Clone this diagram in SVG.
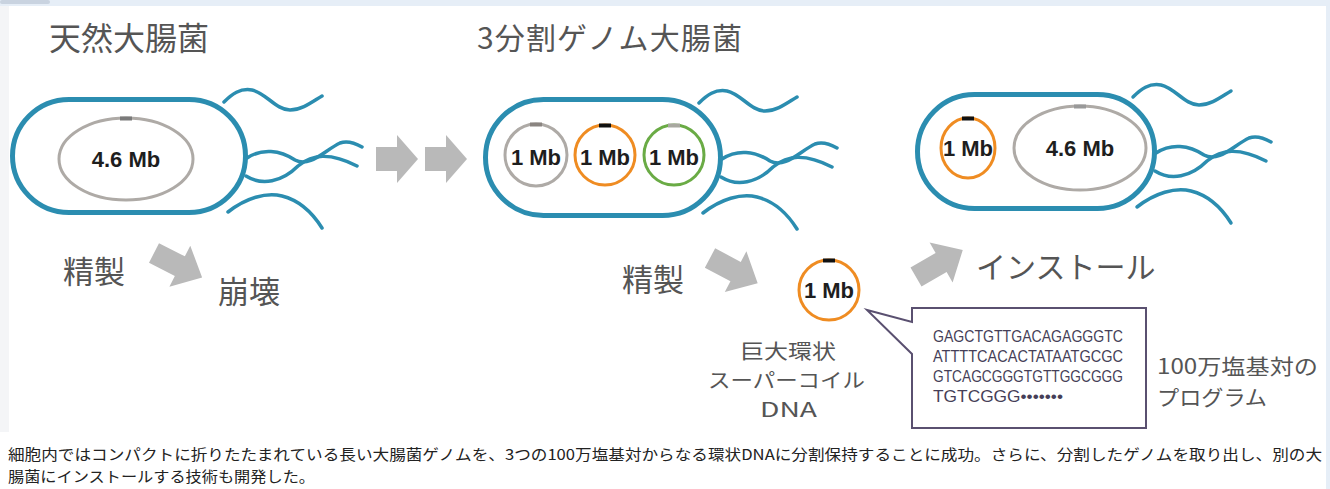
<svg xmlns="http://www.w3.org/2000/svg" xmlns:xlink="http://www.w3.org/1999/xlink" width="1330" height="489" viewBox="0 0 1330 489">
  <style>
    .cell { fill: none; stroke: #2b8db0; stroke-width: 5; }
    .flag { fill: none; stroke: #2b8db0; stroke-width: 3.5; stroke-linecap: round; }
    .ring { fill: #fff; stroke-width: 3; }
    .gray { stroke: #aeaaa6; }
    .orange { stroke: #ef8c22; }
    .green { stroke: #6aab45; }
    .mb { font-family: "Liberation Sans", Arial, sans-serif; font-weight: bold; font-size: 22px; fill: #1e1e1e; text-anchor: middle; }
    .jp { font-family: "Noto Sans CJK JP", "Noto Sans", sans-serif; fill: #555; }
    .arrow { fill: #b9b9b9; }
    .seq { font-family: "Liberation Sans", Arial, sans-serif; font-size: 17px; fill: #463f58; }
    .cap { font-family: "Noto Sans CJK JP", "Noto Sans", sans-serif; font-size: 15px; fill: #222; }
  </style>
  <defs>
    <!-- flagella bundle, drawn for the first cell and reused -->
    <g id="flagella">
      <path class="flag" d="M224,102 C232,94 240,88 252,90 C266,93 276,110 290,110 C302,110 312,102 322,96"/>
      <path class="flag" d="M247,158 C262,148 280,150 295,160 C310,168 325,150 340,143 C348,140 355,143 362,147"/>
      <path class="flag" d="M246,176 C262,186 282,182 298,166 C312,154 330,152 357,166"/>
      <path class="flag" d="M228,212 C246,198 266,192 282,196 C298,200 312,212 322,228"/>
    </g>
    <path id="harrow" d="M0,-12 H21 V-24 L42,0 L21,24 V12 H0 Z"/>
    <path id="darrow" d="M0,-11 H29 V-23 L54,0 L29,23 V11 H0 Z"/>
  </defs>

  <!-- page frame -->
  <rect width="1330" height="489" fill="#ffffff"/>
  <rect x="0" y="6" width="9" height="426" fill="#f4f5f7"/>
  <rect x="0" y="0" width="1330" height="6" fill="#e6eef7"/>
  <rect x="0" y="0" width="50" height="4" rx="2" fill="#c9d3e0"/>
  <rect x="1326" y="0" width="4" height="489" fill="#e6eef7"/>

  <!-- headings -->
  <text class="jp" x="49" y="50" font-size="32">天然大腸菌</text>
  <text class="jp" x="477" y="49" font-size="30" textLength="265" lengthAdjust="spacing">3分割ゲノム大腸菌</text>

  <!-- natural E. coli -->
  <g id="cell-natural">
    <use xlink:href="#flagella"/>
    <rect class="cell" x="12.5" y="99.5" width="233" height="113" rx="56.5"/>
    <ellipse class="ring gray" cx="126" cy="159" rx="67" ry="41"/>
    <rect x="120" y="116.5" width="12" height="4" fill="#7a7a7a"/>
    <text class="mb" x="126" y="167">4.6 Mb</text>
  </g>

  <!-- three-part genome E. coli -->
  <g id="cell-split">
    <use xlink:href="#flagella" transform="translate(475,1)"/>
    <rect class="cell" x="485.5" y="99.5" width="235" height="116" rx="58"/>
    <circle class="ring gray" cx="536" cy="155" r="31"/>
    <rect x="530" y="122.5" width="12" height="4" fill="#8a8480"/>
    <text class="mb" x="536" y="165">1 Mb</text>
    <circle class="ring orange" cx="605" cy="155" r="30"/>
    <rect x="599" y="123.5" width="12" height="4" fill="#111"/>
    <text class="mb" x="605" y="165">1 Mb</text>
    <circle class="ring green" cx="674" cy="155" r="30"/>
    <rect x="668" y="123.5" width="12" height="4" fill="#a8a8a0"/>
    <text class="mb" x="674" y="165">1 Mb</text>
  </g>

  <!-- host cell after installation -->
  <g id="cell-installed">
    <use xlink:href="#flagella" transform="translate(909,-5)"/>
    <rect class="cell" x="917.5" y="94.5" width="237" height="114" rx="57"/>
    <ellipse class="ring orange" cx="968" cy="148" rx="27" ry="30"/>
    <rect x="962" y="116.5" width="12" height="4" fill="#111"/>
    <text class="mb" x="968" y="156">1 Mb</text>
    <ellipse class="ring gray" cx="1080" cy="148" rx="66" ry="42"/>
    <rect x="1074" y="104.5" width="12" height="4" fill="#999"/>
    <text class="mb" x="1080" y="156">4.6 Mb</text>
  </g>

  <!-- isolated 1 Mb circular DNA -->
  <g id="dna-ring">
    <circle class="ring orange" cx="829" cy="290" r="30"/>
    <rect x="823" y="258.5" width="12" height="4" fill="#111"/>
    <text class="mb" x="829" y="298">1 Mb</text>
  </g>

  <!-- sequence callout -->
  <g id="callout">
    <path d="M912,308 H1146 V428 H912 V354 L867,310 L912,322 Z" fill="#fff" stroke="#5a5070" stroke-width="2" stroke-linejoin="miter"/>
    <text class="seq" x="933" y="342" textLength="190" lengthAdjust="spacingAndGlyphs">GAGCTGTTGACAGAGGGTC</text>
    <text class="seq" x="933" y="362" textLength="190" lengthAdjust="spacingAndGlyphs">ATTTTCACACTATAATGCGC</text>
    <text class="seq" x="933" y="382" textLength="190" lengthAdjust="spacingAndGlyphs">GTCAGCGGGTGTTGGCGGG</text>
    <text class="seq" x="933" y="402" textLength="130" lengthAdjust="spacingAndGlyphs">TGTCGGG•••••••</text>
  </g>

  <!-- process arrows -->
  <g id="connectors">
    <use xlink:href="#harrow" class="arrow" transform="translate(376,159)"/>
    <use xlink:href="#harrow" class="arrow" transform="translate(425,159)"/>
    <use xlink:href="#darrow" class="arrow" transform="translate(154,253) rotate(27)"/>
    <use xlink:href="#darrow" class="arrow" transform="translate(710,258) rotate(28)"/>
    <use xlink:href="#darrow" class="arrow" transform="translate(916,277) rotate(-30)"/>
  </g>

  <!-- step labels -->
  <text class="jp" x="63" y="283" font-size="31">精製</text>
  <text class="jp" x="218" y="303" font-size="31">崩壊</text>
  <text class="jp" x="622" y="291" font-size="31">精製</text>
  <text class="jp" x="976" y="278" font-size="30">インストール</text>
  <g class="jp" font-size="20">
    <text x="740" y="359" textLength="96" lengthAdjust="spacingAndGlyphs">巨大環状</text>
    <text x="708" y="388" textLength="157" lengthAdjust="spacingAndGlyphs">スーパーコイル</text>
    <text x="760" y="417" textLength="57" lengthAdjust="spacingAndGlyphs">DNA</text>
  </g>
  <g class="jp" font-size="21">
    <text x="1157" y="374" textLength="161" lengthAdjust="spacingAndGlyphs">100万塩基対の</text>
    <text x="1157" y="404.5" textLength="110" lengthAdjust="spacingAndGlyphs">プログラム</text>
  </g>

  <!-- caption -->
  <text class="cap" x="8" y="460" textLength="1314" lengthAdjust="spacingAndGlyphs">細胞内ではコンパクトに折りたたまれている長い大腸菌ゲノムを、3つの100万塩基対からなる環状DNAに分割保持することに成功。さらに、分割したゲノムを取り出し、別の大</text>
  <text class="cap" x="8" y="482" textLength="307" lengthAdjust="spacingAndGlyphs">腸菌にインストールする技術も開発した。</text>
</svg>
